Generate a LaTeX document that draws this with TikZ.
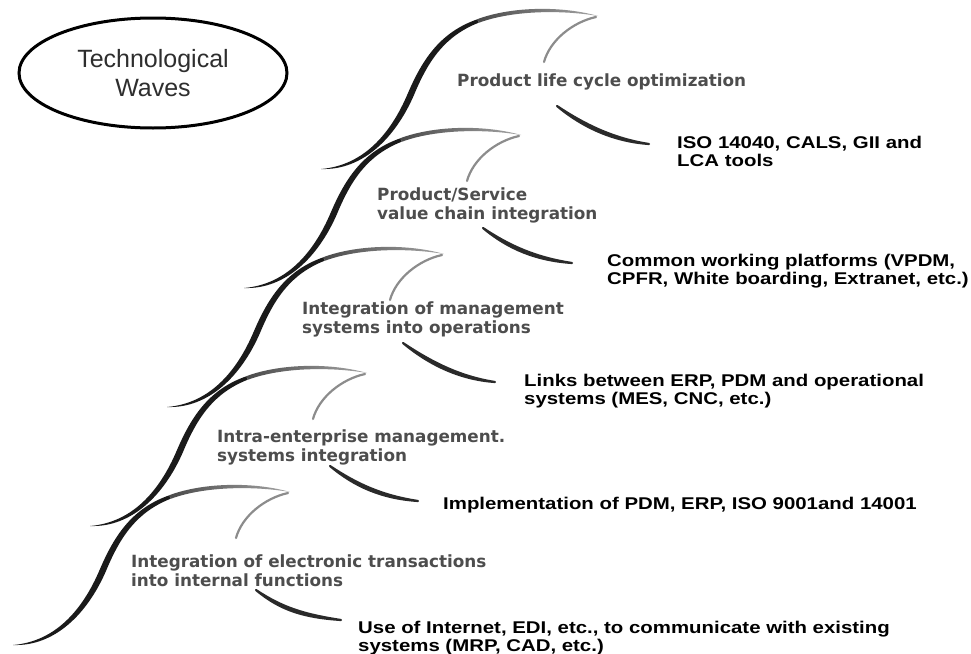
\documentclass[tikz,border=0pt]{standalone}
\usepackage{fontspec}
\usetikzlibrary{shapes.geometric}
\newfontfamily\grayfont{DejaVu Sans}
\newfontfamily\blackfont{Liberation Sans}[FakeStretch=1.2]
\newfontfamily\titlefont{Liberation Sans}
\newcommand\twolines[2]{\vtop{\hbox{#1}\hbox{#2}}}
\definecolor{waveDark}{HTML}{1A1A1A}
\definecolor{crestStart}{HTML}{4A4A4A}
\definecolor{crestEnd}{HTML}{A5A5A5}
\definecolor{curlGray}{HTML}{8C8C8C}
\definecolor{strokeDark}{HTML}{2A2A2A}
\definecolor{labelGray}{HTML}{4D4D4D}
\definecolor{titleGray}{HTML}{2E2E2E}
\tikzset{
  graylabel/.style={anchor=base west, inner sep=0pt, text=labelGray,
    font={\grayfont\bfseries\fontsize{16.8}{19}\selectfont}},
  blacklabel/.style={anchor=base west, inner sep=0pt, text=black,
    font={\blackfont\bfseries\fontsize{17}{18}\selectfont}},
  titlebox/.style={draw=black, line width=3pt, ellipse, inner sep=0pt,
    minimum width=268pt, minimum height=110pt, align=center, text=titleGray,
    font={\titlefont\fontsize{25}{29}\selectfont}},
  wavebody/.style={fill=waveDark},
  wavecurl/.style={draw=curlGray, line width=2.2pt, line cap=round},
  textstroke/.style={fill=strokeDark, draw=strokeDark, line width=2.2pt,
    line join=round, line cap=round}
}
\begin{document}
\begin{tikzpicture}[x=1pt,y=-1pt]
\useasboundingbox (0,0) rectangle (971,653);
\fill[white] (0,0) rectangle (971,653);

\foreach \i/\sx/\sy in {0/-34/98, 1/-37/93, 2/-41/89, 3/-38/93, 4/-41/90}{
  \begin{scope}[shift={({290+77*\i},{492-119*\i})}]
    % dark S-shaped body
    \path[wavebody] (-277,153) .. controls (-235,149.5) and (-207.5,118.5) .. (-190,77)
      .. controls (-175,42) and (-157,16) .. (-120.7,3.3)
      -- (-119.3,6.7) .. controls (-153,20) and (-169.5,44) .. (-184,79)
      .. controls (-202.5,121.5) and (-235,154.5) .. cycle;
    % grey crest
    \shade[left color=crestStart, right color=crestEnd]
      (-121,3.3) .. controls (-85.5,-10) and (-35,-10) .. (0,0)
      .. controls (-35,-6) and (-84.5,-6) .. (-119,6.7) -- cycle;
    % curl back from the tip
    \path[wavecurl] (-2,1) .. controls (-25,6) and (-48,24) .. (-54,46);
    % stroke under the label
    \path[textstroke] (\sx,\sy) .. controls ({\sx+27},{\sy+18}) and (15,122.5) .. (51,128)
      .. controls (15,125.5) and ({\sx+25},{\sy+21}) .. cycle;
  \end{scope}
}

\node[titlebox] (title) at (153,73) {Technological\\Waves};

\node[graylabel] (g1) at (131,567) {\twolines{Integration of electronic transactions}{into internal functions}};
\node[graylabel] (g2) at (217,442) {\twolines{Intra-enterprise management.}{systems integration}};
\node[graylabel] (g3) at (302,314) {\twolines{Integration of management}{systems into operations}};
\node[graylabel] (g4) at (377,200) {\twolines{Product/Service}{value chain integration}};
\node[graylabel] (g5) at (457,86) {Product life cycle optimization};

\node[blacklabel] (b5) at (677,148) {\twolines{ISO 14040, CALS, GII and}{LCA tools}};
\node[blacklabel] (b4) at (607,266) {\twolines{Common working platforms (VPDM,}{CPFR, White boarding, Extranet, etc.)}};
\node[blacklabel] (b3) at (524,386) {\twolines{Links between ERP, PDM and operational}{systems (MES, CNC, etc.)}};
\node[blacklabel] (b2) at (443,509) {Implementation of PDM, ERP, ISO 9001and 14001};
\node[blacklabel] (b1) at (358,633) {\twolines{Use of Internet, EDI, etc., to communicate with existing}{systems (MRP, CAD, etc.)}};
\end{tikzpicture}
\end{document}
